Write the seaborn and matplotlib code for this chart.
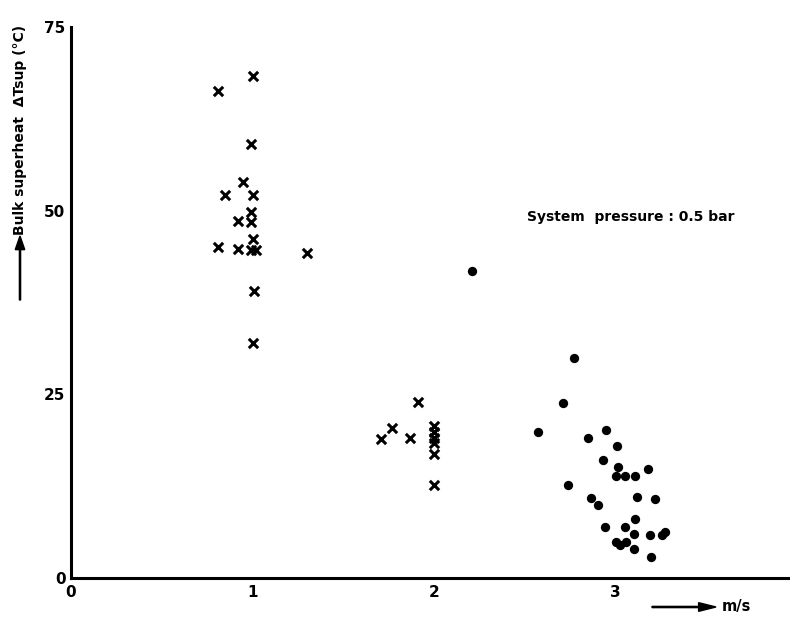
import matplotlib
matplotlib.use("Agg")
import matplotlib.pyplot as plt
import seaborn as sns
import pandas as pd

# Crosses (x markers)
cross_v = [1.00, 0.81, 0.99, 0.945, 0.85, 1.00, 0.99, 0.92, 0.99, 1.00, 0.81, 0.92, 0.99, 1.02, 1.30, 1.01, 1.00,
           1.91, 1.77, 1.71, 1.87, 2.00, 2.00, 2.00, 2.00, 2.00, 2.00]
cross_t = [68.3, 66.3, 59.1, 53.9, 52.1, 52.1, 49.8, 48.6, 48.5, 46.1, 45.1, 44.8, 44.6, 44.6, 44.2, 39.0, 32.0,
           23.9, 20.4, 18.9, 19.1, 20.7, 19.9, 19.1, 18.4, 16.9, 12.7]

# Dots (filled circles)
dot_v = [2.21, 2.77, 2.71, 2.575, 2.85, 2.95, 3.01, 2.93, 3.015, 3.18, 3.005, 3.05, 3.105, 2.74, 2.865, 2.905,
         3.12, 3.215, 3.11, 2.94, 3.055, 3.10, 3.19, 3.255, 3.27, 3.005, 3.025, 3.06, 3.10, 3.195]
dot_t = [41.8, 29.9, 23.8, 19.9, 19.1, 20.2, 17.9, 16.1, 15.1, 14.9, 13.9, 13.9, 13.9, 12.7, 10.9, 9.9,
         11.0, 10.7, 8.0, 6.9, 6.9, 6.0, 5.9, 5.8, 6.3, 4.9, 4.5, 4.9, 3.9, 2.8]

x_ticks = [0, 1, 2, 3, 4]
x_tick_labels = ["0", "1", "2", "3", ""]
y_ticks = [0, 25, 50, 75]

sns.set_style("white")
plt.rcParams['font.family'] = ['DejaVu Sans']
plt.rcParams['font.weight'] = 'bold'
plt.rcParams['text.color'] = 'black'
plt.rcParams['xtick.color'] = 'black'
plt.rcParams['ytick.color'] = 'black'

fig = plt.figure(figsize=(7.9, 6.2), dpi=100)
ax = fig.add_axes([71 / 790, 42 / 620, 726 / 790, 551 / 620])

df_c = pd.DataFrame({"v": cross_v, "t": cross_t})
df_d = pd.DataFrame({"v": dot_v, "t": dot_t})
sns.scatterplot(data=df_c, x="v", y="t", marker="x", color="black", s=45, linewidth=2.2, ax=ax, zorder=3)
sns.scatterplot(data=df_d, x="v", y="t", marker="o", color="black", s=45, edgecolor="black", linewidth=0, ax=ax, zorder=3)

ax.set_xlim(0, 4)
ax.set_ylim(0, 75)
ax.set_xticks(x_ticks)
ax.set_yticks(y_ticks)
ax.set_xticklabels(x_tick_labels, fontweight='bold', fontsize=11, color='black')
ax.set_yticklabels([str(t) for t in y_ticks], fontweight='bold', fontsize=11, color='black')
ax.tick_params(axis='x', direction='in', length=14, width=1.6, pad=5, colors='black')
ax.tick_params(axis='y', direction='in', length=13, width=1.6, pad=4, colors='black')
for s in ['top', 'right']:
    ax.spines[s].set_visible(False)
for s in ['left', 'bottom']:
    ax.spines[s].set_linewidth(2.2)
    ax.spines[s].set_color('black')
ax.set_xlabel("")
ax.set_ylabel("")

# annotation
fig.text(527 / 790, 1 - 217 / 620, "System  pressure : 0.5 bar", fontsize=10, fontweight='bold',
         va='center', ha='left', color='black')

# y label with arrow
fig.text(20 / 790, 1 - 130 / 620, "Bulk superheat  \u0394Tsup (\u00b0C)", rotation=90, fontsize=10,
         fontweight='bold', va='center', ha='center', color='black')
fig.patches.append(matplotlib.patches.FancyArrow(20 / 790, 1 - 300 / 620, 0, 64 / 620, width=0.0015,
                                                 head_width=0.012, head_length=0.022, color='black',
                                                 length_includes_head=True, transform=fig.transFigure,
                                                 figure=fig))
# x label with arrow
fig.patches.append(matplotlib.patches.FancyArrow(652 / 790, 1 - 607 / 620, 64 / 790, 0, width=0.002,
                                                 head_width=0.014, head_length=0.022, color='black',
                                                 length_includes_head=True, transform=fig.transFigure,
                                                 figure=fig))
fig.text(722 / 790, 1 - 607 / 620, "m/s", fontsize=10.5, fontweight='bold', va='center', ha='left',
         color='black')

fig.savefig("out.png", dpi=100)
